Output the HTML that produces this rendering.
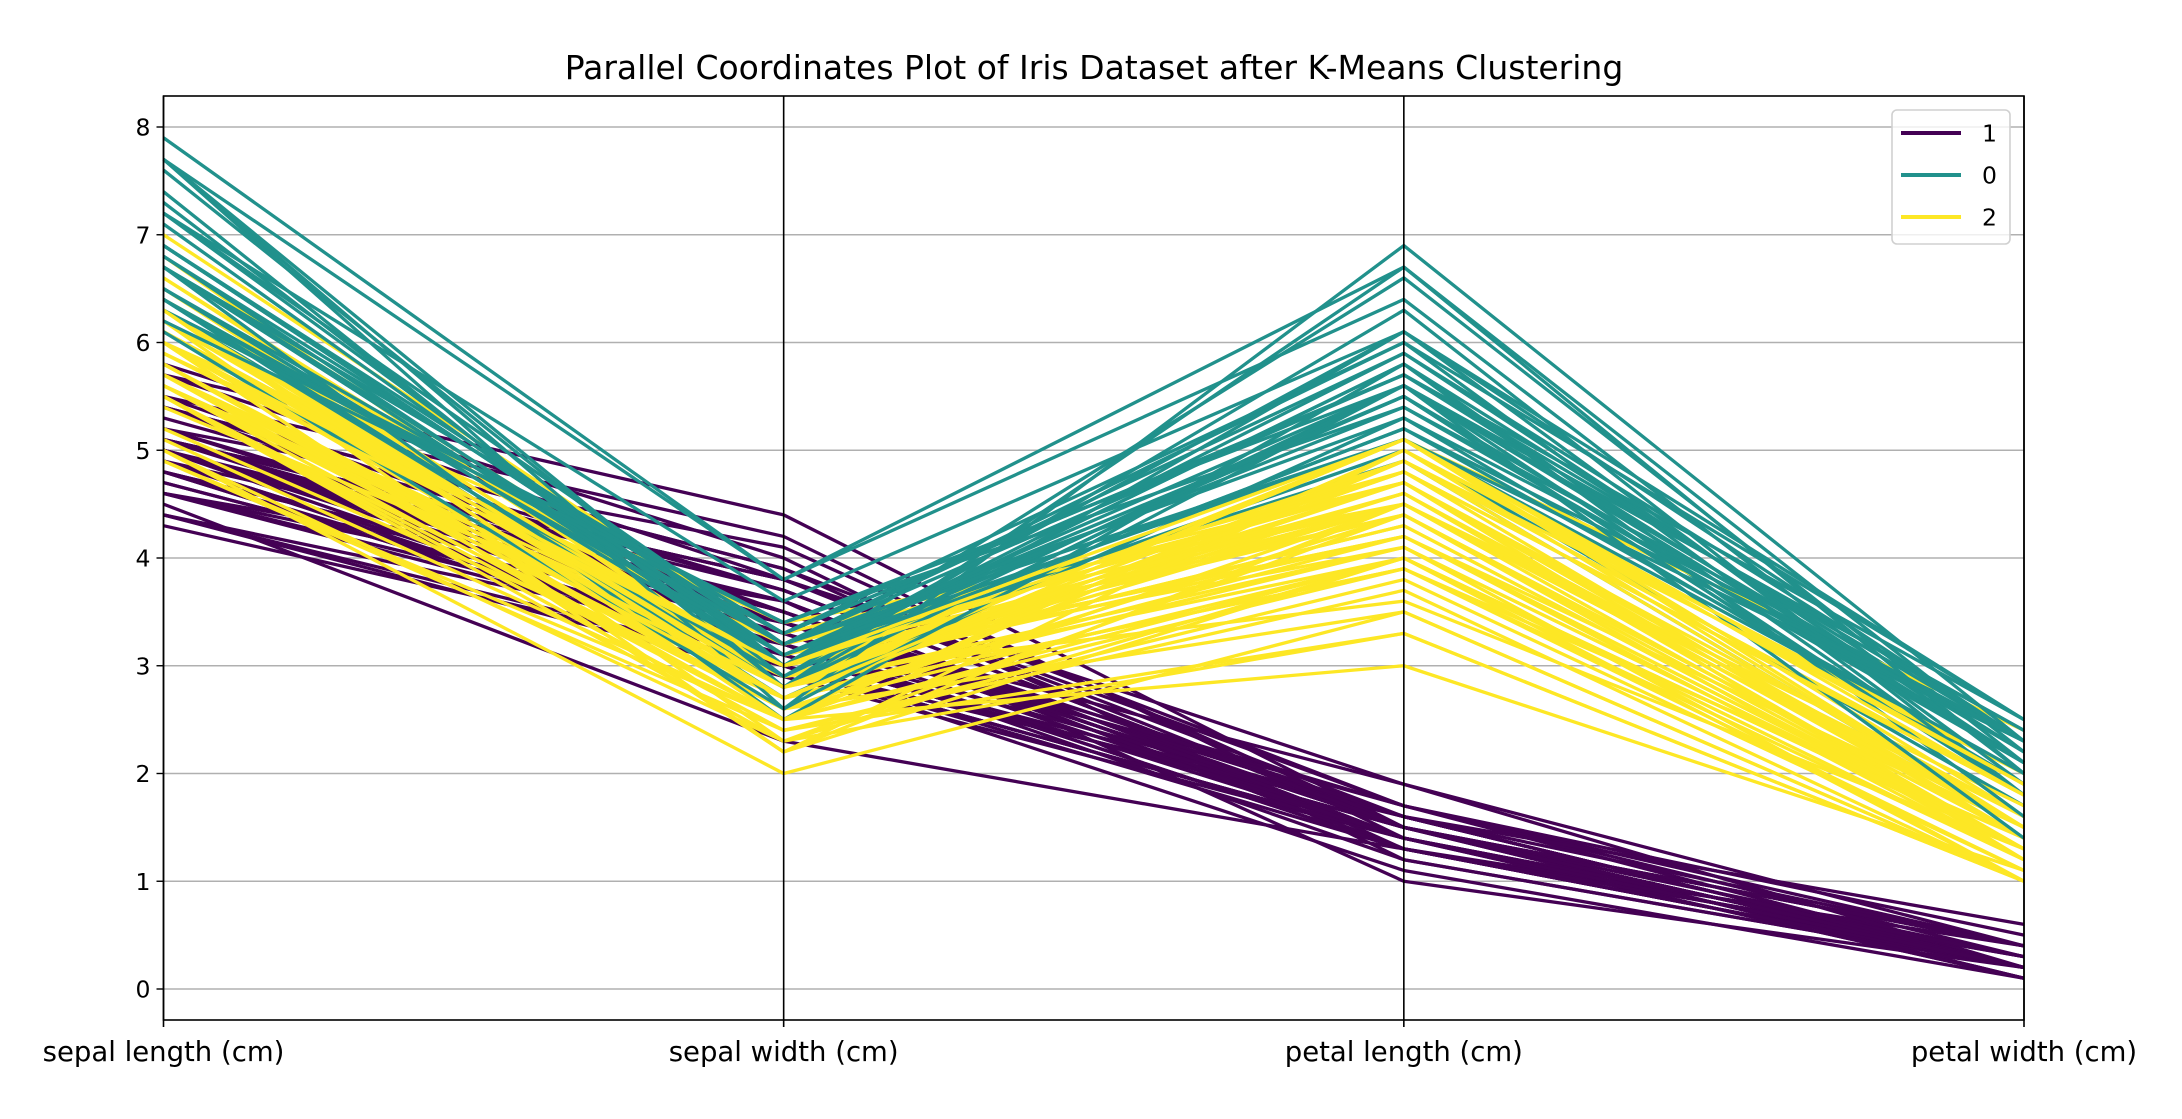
<!DOCTYPE html>
<html><head><meta charset="utf-8"><style>
body{margin:0;background:#fff}
svg text{font-family:"DejaVu Sans","Liberation Sans",sans-serif;fill:#000}
</style></head><body>
<svg id="chart" width="2182" height="1114" xmlns="http://www.w3.org/2000/svg">
<rect width="2182" height="1114" fill="#fff"/>
<text x="1094" y="79" font-size="33" text-anchor="middle">Parallel Coordinates Plot of Iris Dataset after K-Means Clustering</text>
<g id="grid"></g><g id="lines"></g><g id="axes"></g><g id="legend"></g>
</svg>
<script>
const dimensions=["sepal length (cm)","sepal width (cm)","petal length (cm)","petal width (cm)"];
const yTicks=[0,1,2,3,4,5,6,7,8];
const setosa=[[5.1,3.5,1.4,0.2],[4.9,3.0,1.4,0.2],[4.7,3.2,1.3,0.2],[4.6,3.1,1.5,0.2],[5.0,3.6,1.4,0.2],[5.4,3.9,1.7,0.4],[4.6,3.4,1.4,0.3],[5.0,3.4,1.5,0.2],[4.4,2.9,1.4,0.2],[4.9,3.1,1.5,0.1],[5.4,3.7,1.5,0.2],[4.8,3.4,1.6,0.2],[4.8,3.0,1.4,0.1],[4.3,3.0,1.1,0.1],[5.8,4.0,1.2,0.2],[5.7,4.4,1.5,0.4],[5.4,3.9,1.3,0.4],[5.1,3.5,1.4,0.3],[5.7,3.8,1.7,0.3],[5.1,3.8,1.5,0.3],[5.4,3.4,1.7,0.2],[5.1,3.7,1.5,0.4],[4.6,3.6,1.0,0.2],[5.1,3.3,1.7,0.5],[4.8,3.4,1.9,0.2],[5.0,3.0,1.6,0.2],[5.0,3.4,1.6,0.4],[5.2,3.5,1.5,0.2],[5.2,3.4,1.4,0.2],[4.7,3.2,1.6,0.2],[4.8,3.1,1.6,0.2],[5.4,3.4,1.5,0.4],[5.2,4.1,1.5,0.1],[5.5,4.2,1.4,0.2],[4.9,3.1,1.5,0.2],[5.0,3.2,1.2,0.2],[5.5,3.5,1.3,0.2],[4.9,3.6,1.4,0.1],[4.4,3.0,1.3,0.2],[5.1,3.4,1.5,0.2],[5.0,3.5,1.3,0.3],[4.5,2.3,1.3,0.3],[4.4,3.2,1.3,0.2],[5.0,3.5,1.6,0.6],[5.1,3.8,1.9,0.4],[4.8,3.0,1.4,0.3],[5.1,3.8,1.6,0.2],[4.6,3.2,1.4,0.2],[5.3,3.7,1.5,0.2],[5.0,3.3,1.4,0.2]];
const versicolor=[[7.0,3.2,4.7,1.4],[6.4,3.2,4.5,1.5],[6.9,3.1,4.9,1.5],[5.5,2.3,4.0,1.3],[6.5,2.8,4.6,1.5],[5.7,2.8,4.5,1.3],[6.3,3.3,4.7,1.6],[4.9,2.4,3.3,1.0],[6.6,2.9,4.6,1.3],[5.2,2.7,3.9,1.4],[5.0,2.0,3.5,1.0],[5.9,3.0,4.2,1.5],[6.0,2.2,4.0,1.0],[6.1,2.9,4.7,1.4],[5.6,2.9,3.6,1.3],[6.7,3.1,4.4,1.4],[5.6,3.0,4.5,1.5],[5.8,2.7,4.1,1.0],[6.2,2.2,4.5,1.5],[5.6,2.5,3.9,1.1],[5.9,3.2,4.8,1.8],[6.1,2.8,4.0,1.3],[6.3,2.5,4.9,1.5],[6.1,2.8,4.7,1.2],[6.4,2.9,4.3,1.3],[6.6,3.0,4.4,1.4],[6.8,2.8,4.8,1.4],[6.7,3.0,5.0,1.7],[6.0,2.9,4.5,1.5],[5.7,2.6,3.5,1.0],[5.5,2.4,3.8,1.1],[5.5,2.4,3.7,1.0],[5.8,2.7,3.9,1.2],[6.0,2.7,5.1,1.6],[5.4,3.0,4.5,1.5],[6.0,3.4,4.5,1.6],[6.7,3.1,4.7,1.5],[6.3,2.3,4.4,1.3],[5.6,3.0,4.1,1.3],[5.5,2.5,4.0,1.3],[5.5,2.6,4.4,1.2],[6.1,3.0,4.6,1.4],[5.8,2.6,4.0,1.2],[5.0,2.3,3.3,1.0],[5.6,2.7,4.2,1.3],[5.7,3.0,4.2,1.2],[5.7,2.9,4.2,1.3],[6.2,2.9,4.3,1.3],[5.1,2.5,3.0,1.1],[5.7,2.8,4.1,1.3]];
const virginica=[[6.3,3.3,6.0,2.5],[5.8,2.7,5.1,1.9],[7.1,3.0,5.9,2.1],[6.3,2.9,5.6,1.8],[6.5,3.0,5.8,2.2],[7.6,3.0,6.6,2.1],[4.9,2.5,4.5,1.7],[7.3,2.9,6.3,1.8],[6.7,2.5,5.8,1.8],[7.2,3.6,6.1,2.5],[6.5,3.2,5.1,2.0],[6.4,2.7,5.3,1.9],[6.8,3.0,5.5,2.1],[5.7,2.5,5.0,2.0],[5.8,2.8,5.1,2.4],[6.4,3.2,5.3,2.3],[6.5,3.0,5.5,1.8],[7.7,3.8,6.7,2.2],[7.7,2.6,6.9,2.3],[6.0,2.2,5.0,1.5],[6.9,3.2,5.7,2.3],[5.6,2.8,4.9,2.0],[7.7,2.8,6.7,2.0],[6.3,2.7,4.9,1.8],[6.7,3.3,5.7,2.1],[7.2,3.2,6.0,1.8],[6.2,2.8,4.8,1.8],[6.1,3.0,4.9,1.8],[6.4,2.8,5.6,2.1],[7.2,3.0,5.8,1.6],[7.4,2.8,6.1,1.9],[7.9,3.8,6.4,2.0],[6.4,2.8,5.6,2.2],[6.3,2.8,5.1,1.5],[6.1,2.6,5.6,1.4],[7.7,3.0,6.1,2.3],[6.3,3.4,5.6,2.4],[6.4,3.1,5.5,1.8],[6.0,3.0,4.8,1.8],[6.9,3.1,5.4,2.1],[6.7,3.1,5.6,2.4],[6.9,3.1,5.1,2.3],[5.8,2.7,5.1,1.9],[6.8,3.2,5.9,2.3],[6.7,3.3,5.7,2.5],[6.7,3.0,5.2,2.3],[6.3,2.5,5.0,1.9],[6.5,3.0,5.2,2.0],[6.2,3.4,5.4,2.3],[5.9,3.0,5.1,1.8]];
const setosaLabels=Array(50).fill(1);
const versicolorLabels=[2,2,0,2,2,2,2,2,2,2,2,2,2,2,2,2,2,2,2,2,2,2,2,2,2,2,2,0,2,2,2,2,2,2,2,2,2,2,2,2,2,2,2,2,2,2,2,2,2,2];
const virginicaLabels=[0,2,0,0,0,0,2,0,0,0,0,0,0,2,2,0,0,0,0,2,0,2,0,2,0,0,2,2,0,0,0,0,0,2,0,0,0,0,2,0,0,0,2,0,0,0,2,0,0,2];
const legendClasses=[1,0,2];
const classColors={1:"#440154",0:"#21918c",2:"#fde725"};

const NS="http://www.w3.org/2000/svg";
const X0=163.5,X1=2024,YT=96,YB=1020;
const xAxis=i=>X0+(X1-X0)*i/(dimensions.length-1);
const yAxis=v=>989-v*107.75;
function mk(tag,attrs,parent){const e=document.createElementNS(NS,tag);for(const k in attrs)e.setAttribute(k,attrs[k]);parent.appendChild(e);return e;}
const grid=document.getElementById('grid'),lines=document.getElementById('lines'),axes=document.getElementById('axes'),legend=document.getElementById('legend');
yTicks.forEach(t=>{
  const l=mk('line',{x1:X0,x2:X1,y1:yAxis(t),y2:yAxis(t),stroke:'#b0b0b0','stroke-width':1.6},grid);
  
  
  const tk=mk('line',{x1:X0-7,x2:X0,y1:yAxis(t),y2:yAxis(t),stroke:'#000','stroke-width':1.4},axes);
  
  
  const tx=mk('text',{x:X0-13,y:yAxis(t)+8.5,'font-size':23.5,'text-anchor':'end'},axes);
  tx.textContent=t;
  
  
});
const rows=setosa.concat(versicolor,virginica);
const labels=setosaLabels.concat(versicolorLabels,virginicaLabels);
rows.forEach((r,i)=>{
  const pts=r.map((v,j)=>xAxis(j)+','+yAxis(v)).join(' ');
  const p=mk('polyline',{points:pts,fill:'none',stroke:classColors[labels[i]],'stroke-width':3.3,'stroke-linejoin':'round'},lines);
  
  
});
const frame=mk('rect',{x:X0,y:YT,width:X1-X0,height:YB-YT,fill:'none',stroke:'#000','stroke-width':1.6},axes);


dimensions.forEach((d,i)=>{
  const a=mk('line',{x1:xAxis(i),x2:xAxis(i),y1:YT,y2:YB+7,stroke:'#000','stroke-width':1.6},axes);
  
  
  const t=mk('text',{x:xAxis(i),y:1061,'font-size':27.5,'text-anchor':'middle'},axes);
  t.textContent=d;
  
  
});
const box=mk('rect',{x:1892,y:110,width:118,height:134,rx:5,fill:'#fff','fill-opacity':0.8,stroke:'#d0d0d0','stroke-width':1.6},legend);


legendClasses.forEach((c,i)=>{
  const y=133+i*42;
  const l=mk('line',{x1:1901,x2:1961,y1:y,y2:y,stroke:classColors[c],'stroke-width':4},legend);
  
  
  const t=mk('text',{x:1982,y:y+8.5,'font-size':23.5},legend);
  t.textContent=c;
  
  
});
</script>
</body></html>
